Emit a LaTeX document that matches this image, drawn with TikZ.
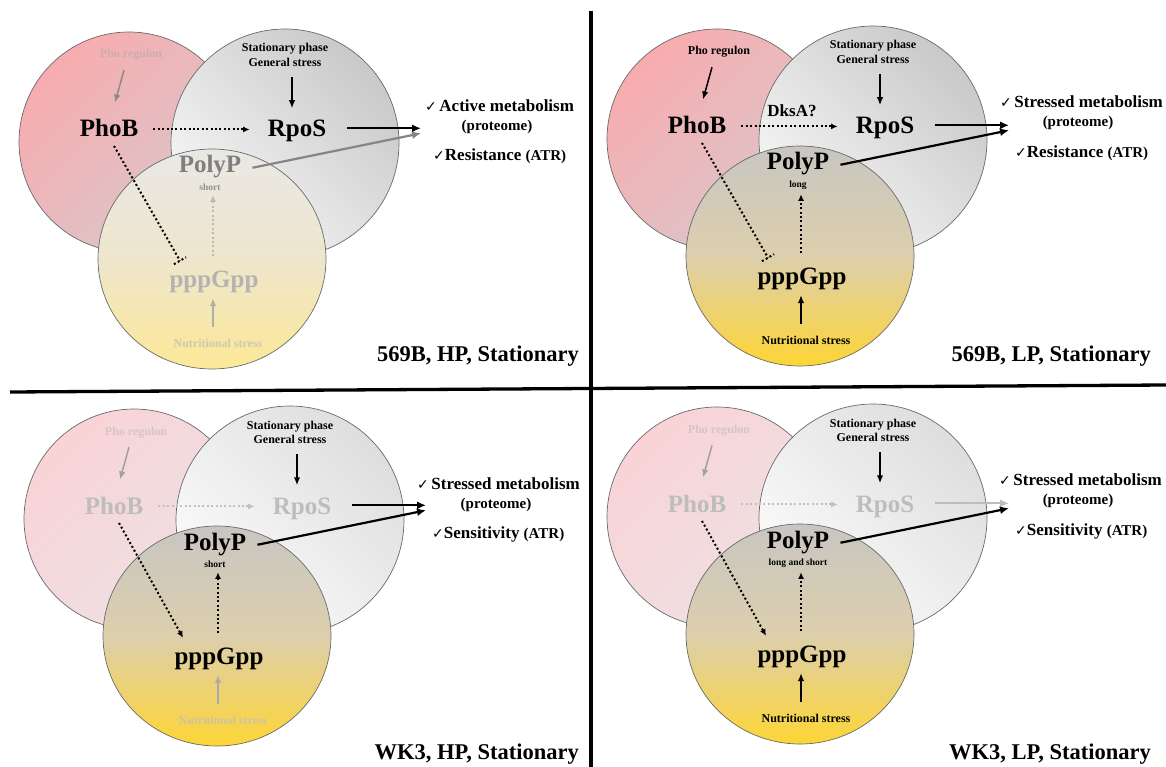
\documentclass[tikz,border=0pt]{standalone}
\usepackage{fontspec}
\setmainfont{Liberation Serif}
\newfontfamily\chkfont{DejaVu Sans}
\usetikzlibrary{arrows.meta,calc}

\definecolor{cline}{HTML}{6A6A6A}
\newcommand\chkmk{{\chkfont\fontsize{14}{14}\selectfont ✓}}
\newif\ifinhib
\newif\ifdksa

\tikzset{
 smalltxt/.style={font=\bfseries\fontsize{12}{14}\selectfont,inner sep=0pt,anchor=base},
 bigtxt/.style={font=\bfseries\fontsize{25}{30}\selectfont,inner sep=0pt,anchor=base},
 tinytxt/.style={font=\bfseries\fontsize{9.5}{11}\selectfont,inner sep=0pt,anchor=base},
 midtxt/.style={font=\bfseries\fontsize{17}{20}\selectfont,inner sep=0pt,anchor=base},
 outl/.style={font=\bfseries\fontsize{17}{20}\selectfont,inner sep=0pt,anchor=base west},
 prot/.style={font=\bfseries\fontsize{15}{18}\selectfont,inner sep=0pt,anchor=base},
 cond/.style={font=\bfseries\fontsize{22.5}{26}\selectfont,inner sep=0pt,anchor=base east},
 arr/.style={line width=1.5pt,-{Latex[length=8pt,width=6.5pt]}},
 bigarr/.style={line width=2.2pt,-{Latex[length=9pt,width=8pt]}},
 dotl/.style={line width=2pt,dash pattern=on 2pt off 2.4pt},
 dotarr/.style={dotl,-{Latex[length=6.5pt,width=6pt]}},
 ring/.style={draw=cline,line width=0.7pt},
 divider/.style={line width=3.3pt},
}

\newcommand\venn[2]{%
\begin{scope}[shift={#2}]
\shade[ring,left color=cRedA,right color=cRedB,shading angle=45] (129,142) circle[radius=110];
\shade[ring,left color=cGryA,right color=cGryB,shading angle=135] (285,143) circle[radius=114];
\shade[ring,top color=cYelA,bottom color=cYelB,middle color=cYelM] (212,259) ellipse[x radius=114,y radius=110];
\node[smalltxt,text=cPho] (#1pho) at (131,58) {Pho regulon};
\node[smalltxt] (#1stA) at (285,52) {Stationary phase};
\node[smalltxt] (#1stB) at (285,66.5) {General stress};
\node[bigtxt,text=cPhoB] (#1phob) at (109,137) {PhoB};
\node[bigtxt,text=cRpoS] (#1rpos) at (297,137) {RpoS};
\node[bigtxt,text=cPolyP] (#1polyp) at (210,173) {PolyP};
\node[tinytxt,text=cSub] (#1sub) at (210,190.5) {\subtxt};
\node[bigtxt,text=cPpp] (#1ppp) at (214,287) {pppGpp};
\node[smalltxt,text=cNut] (#1nut) at (218,347) {Nutritional stress};
\ifdksa \node[midtxt] (#1dksa) at (204,119.5) {DksA?}; \fi
\coordinate (#1tgt) at (421,128.3);
\draw[arr,cPhoArr] ($(#1pho.south)+(-7,9.4)$) -- ($(#1phob.north)+(6,-17)$);
\draw[arr] ($(#1stB.south)+(7,10.5)$) -- ($(#1rpos.north)+(-5,-12)$);
\draw[dotarr,cPR] ($(#1phob.east)+(15,1)$) -- ($(#1phob.east -| #1rpos.west)+(-18,1)$);
\draw[bigarr,cRpoOut] ($(#1tgt -| #1rpos.east)+(21,0)$) -- (#1tgt);
\draw[bigarr,cPolyOut] ($(#1polyp.east)+(11,0.75)$) -- ($(#1tgt)+(0,5)$);
\draw[dotarr,cUp] ($(#1ppp.north)+(-1,-14)$) -- ($(#1ppp.north |- #1sub.south)+(-1,4.5)$);
\draw[arr,cNutArr] ($(#1nut.north)+(-5,-11)$) -- ($(#1ppp.south)+(-1,5.6)$);
\coordinate (#1s) at ($(#1phob.south)+(5,8.5)$);
\ifinhib
 \coordinate (#1e) at ($(#1ppp.north)+(-34,-9.5)$);
 \draw[dotl] (#1s) -- (#1e);
 \draw[dotl] ($(#1e)!7pt!90:(#1s)$) -- ($(#1e)!7pt!-90:(#1s)$);
\else
 \draw[dotarr] (#1s) -- ($(#1ppp.north)+(-36,-9.5)$);
\fi
\end{scope}}

\begin{document}
\begin{tikzpicture}[x=1pt,y=-1pt]
\useasboundingbox (0,0) rectangle (1166,767);
\fill[white] (0,0) rectangle (1166,767);

% ---------- Q1 ----------
\definecolor{cRedA}{HTML}{F8ACAF}\definecolor{cRedB}{HTML}{D8C8CC}
\definecolor{cGryA}{HTML}{F7F7F7}\definecolor{cGryB}{HTML}{C9C9C9}
\definecolor{cYelA}{HTML}{E9E8E5}\definecolor{cYelM}{HTML}{EEE6CC}\definecolor{cYelB}{HTML}{FDE898}
\definecolor{cPho}{HTML}{C8AEB1}\definecolor{cPhoArr}{HTML}{8A8A8A}
\colorlet{cPhoB}{black}\colorlet{cRpoS}{black}\colorlet{cPR}{black}\colorlet{cRpoOut}{black}
\definecolor{cPolyP}{HTML}{7F7F7F}\definecolor{cSub}{HTML}{8F8F8F}\definecolor{cPolyOut}{HTML}{858585}
\definecolor{cUp}{HTML}{B8B8B8}\definecolor{cPpp}{HTML}{B3B3B3}\definecolor{cNutArr}{HTML}{ADADAD}
\definecolor{cNut}{HTML}{CFC8AC}
\def\subtxt{short}\inhibtrue\dksafalse
\venn{qa}{(0,0)}

% ---------- Q2 ----------
\definecolor{cYelA}{HTML}{C8C6C2}\definecolor{cYelM}{HTML}{DDCFAD}\definecolor{cYelB}{HTML}{FDD535}
\colorlet{cPho}{black}\colorlet{cPhoArr}{black}\colorlet{cPolyP}{black}\colorlet{cSub}{black}
\colorlet{cPolyOut}{black}\colorlet{cUp}{black}\colorlet{cPpp}{black}\colorlet{cNutArr}{black}\colorlet{cNut}{black}
\def\subtxt{long}\inhibtrue\dksatrue
\venn{qb}{(588,-3)}

% ---------- Q3 ----------
\definecolor{cRedA}{HTML}{F9D3D6}\definecolor{cRedB}{HTML}{EDE2E4}
\definecolor{cGryA}{HTML}{FCFCFC}\definecolor{cGryB}{HTML}{DEDEDE}
\definecolor{cPho}{HTML}{D5C5C7}\definecolor{cPhoArr}{HTML}{A0A0A0}
\definecolor{cPhoB}{HTML}{BDBDBD}\definecolor{cRpoS}{HTML}{BDBDBD}\definecolor{cPR}{HTML}{C0C0C0}
\colorlet{cRpoOut}{black}
\definecolor{cNutArr}{HTML}{AAAAAA}\definecolor{cNut}{HTML}{CCC3A2}
\def\subtxt{short}\inhibfalse\dksafalse
\venn{qc}{(5,377)}

% ---------- Q4 ----------
\definecolor{cRpoOut}{HTML}{BDBDBD}
\colorlet{cNutArr}{black}\colorlet{cNut}{black}
\def\subtxt{long and short}\inhibfalse\dksafalse
\venn{qd}{(588,375)}

% ---------- outcome texts ----------
\node[outl] (oa1) at (425,112) {\chkmk\hspace{2.5pt}Active metabolism};
\node[prot] (oa2) at (497,131) {(proteome)};
\node[outl] (oa3) at (433,161) {\chkmk Resistance {\fontsize{15}{18}\selectfont(ATR)}};

\node[outl] (ob1) at (1000,108) {\chkmk\hspace{2.5pt}Stressed metabolism};
\node[prot] (ob2) at (1078,127) {(proteome)};
\node[outl] (ob3) at (1015,158) {\chkmk Resistance {\fontsize{15}{18}\selectfont(ATR)}};

\node[outl] (oc1) at (417,489) {\chkmk\hspace{2.5pt}Stressed metabolism};
\node[prot] (oc2) at (496,508) {(proteome)};
\node[outl] (oc3) at (432,538) {\chkmk Sensitivity {\fontsize{15}{18}\selectfont(ATR)}};

\node[outl] (od1) at (999,485) {\chkmk\hspace{2.5pt}Stressed metabolism};
\node[prot] (od2) at (1078,504) {(proteome)};
\node[outl] (od3) at (1015,535) {\chkmk Sensitivity {\fontsize{15}{18}\selectfont(ATR)}};

% ---------- condition labels ----------
\node[cond] (la) at (579,361) {569B, HP, Stationary};
\node[cond] (lb) at (1151,361) {569B, LP, Stationary};
\node[cond] (lc) at (579,759) {WK3, HP, Stationary};
\node[cond] (ld) at (1151,759) {WK3, LP, Stationary};

% ---------- dividers ----------
\draw[divider] (591,11) -- (591,767);
\draw[divider] (10,392) -- (1166,385);
\end{tikzpicture}
\end{document}
